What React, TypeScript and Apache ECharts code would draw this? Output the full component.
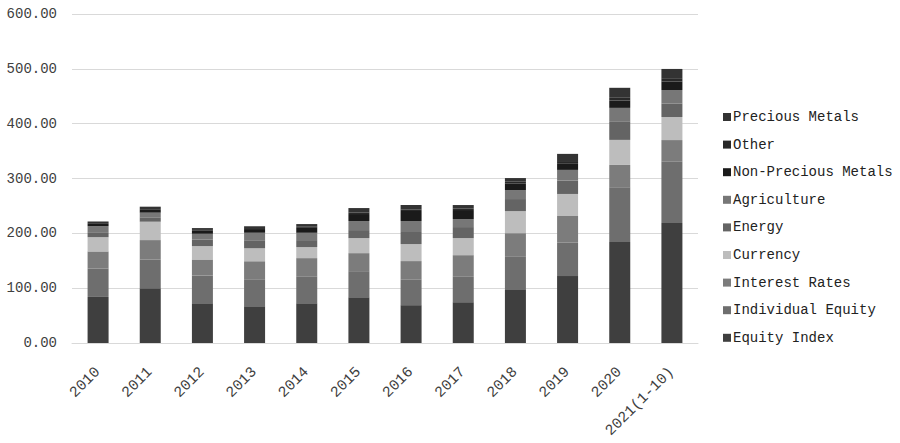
import React, { useEffect, useRef } from "react";
import * as echarts from "echarts";

const years = ["2010", "2011", "2012", "2013", "2014", "2015", "2016", "2017", "2018", "2019", "2020", "2021(1-10)"];
const equityIndex = [84, 100, 72.5, 67, 72.5, 83.5, 69, 74.4, 98, 122, 184, 219];
const individualEquity = [52, 52.4, 50.6, 49.3, 48.2, 47.5, 46.3, 46.3, 59.1, 60.9, 99.9, 111.5];
const interestRates = [31, 35.3, 29.2, 32.9, 34.1, 32.9, 34.1, 39.5, 43.2, 48.7, 40.8, 39.6];
const currency = [26, 33.5, 24.4, 23.7, 20.1, 27.4, 31, 31.1, 40.2, 40.2, 45.7, 42];
const energy = [7.8, 8, 12.2, 14.6, 12.7, 14.6, 22, 20.1, 22, 24.4, 32.9, 24.3];
const agriculture = [12.3, 8.5, 10.3, 13.4, 13.4, 16.5, 20.1, 14.6, 16.4, 19.5, 25.5, 25];
const nonPreciousMetals = [4, 4.9, 5.5, 5, 9, 12.8, 18.2, 16.5, 12.2, 12.1, 13.4, 15.3];
const other = [1.5, 1.5, 1.5, 2, 2, 3, 3, 2.5, 3, 4, 5, 5];
const preciousMetals = [3, 4.5, 3.4, 5.2, 4.9, 7.9, 8, 6.6, 6.7, 13.1, 18.2, 18.1];

const seriesDefs = [
  { name: "Equity Index", data: equityIndex, color: "#3f3f3f" },
  { name: "Individual Equity", data: individualEquity, color: "#6e6e6e" },
  { name: "Interest Rates", data: interestRates, color: "#7c7c7c" },
  { name: "Currency", data: currency, color: "#bdbdbd" },
  { name: "Energy", data: energy, color: "#646464" },
  { name: "Agriculture", data: agriculture, color: "#777777" },
  { name: "Non-Precious Metals", data: nonPreciousMetals, color: "#1a1a1a" },
  { name: "Other", data: other, color: "#282828" },
  { name: "Precious Metals", data: preciousMetals, color: "#333333" },
];

export default function App() {
  const ref = useRef<HTMLDivElement>(null);
  useEffect(() => {
    const chart = echarts.init(ref.current!, null, { renderer: "svg" });
    const font = "'Liberation Mono', 'DejaVu Sans Mono', monospace";
    chart.setOption({
      animation: false,
      backgroundColor: "#ffffff",
      grid: { left: 72, right: 202, top: 14, bottom: 100, containLabel: false, outerBoundsMode: "none" },
      legend: {
        orient: "vertical",
        left: 718,
        top: 105,
        itemWidth: 8,
        itemHeight: 8,
        itemGap: 13.6,
        icon: "rect",
        textStyle: { fontFamily: font, fontSize: 14, color: "#222222", lineHeight: 14, padding: [0, 0, 0, -3] },
        data: seriesDefs.map((s) => s.name).reverse(),
      },
      xAxis: {
        type: "category",
        data: years,
        axisLine: { lineStyle: { color: "#d9d9d9", width: 1 } },
        axisTick: { show: false },
        axisLabel: {
          rotate: 45,
          margin: 27,
          fontFamily: font,
          fontSize: 15,
          color: "#404040",
          interval: 0,
        },
      },
      yAxis: {
        type: "value",
        min: 0,
        max: 600,
        interval: 100,
        axisLine: { show: false },
        axisTick: { show: false },
        splitLine: { lineStyle: { color: "#d9d9d9", width: 1 } },
        axisLabel: {
          margin: 15,
          fontFamily: font,
          fontSize: 14,
          color: "#404040",
          formatter: (v: number) => v.toFixed(2),
        },
      },
      series: seriesDefs.map((s) => ({
        name: s.name,
        type: "bar",
        stack: "total",
        barWidth: 21,
        data: s.data,
        itemStyle: { color: s.color },
      })),
    });
    return () => chart.dispose();
  }, []);
  return <div ref={ref} style={{ width: 900, height: 443, position: "absolute", left: 0, top: 0 }} />;
}
